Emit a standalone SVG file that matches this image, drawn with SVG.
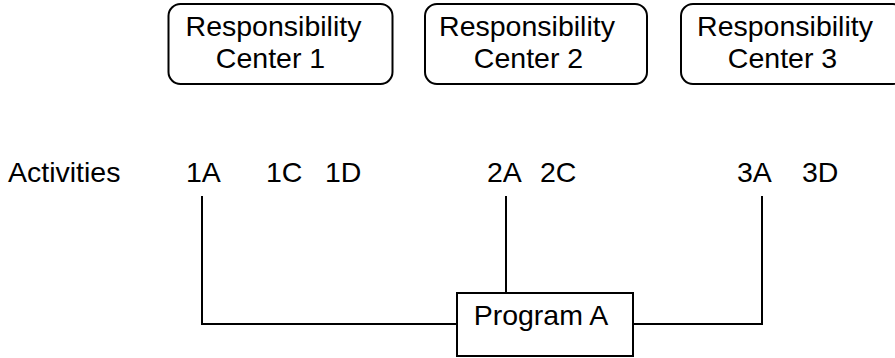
<svg xmlns="http://www.w3.org/2000/svg" width="895" height="358" viewBox="0 0 895 358">
<style>
.box{fill:#fff;stroke:#000;stroke-width:2}
.t{font-family:"Liberation Sans",Arial,sans-serif;font-size:28.5px;fill:#000}
.m{text-anchor:middle}
.c{fill:none;stroke:#000;stroke-width:2}
</style>
<rect width="895" height="358" fill="#fff"/>
<g id="connectors">
<path class="c" d="M202,196 V324 H457"/>
<path class="c" d="M506,196 V293"/>
<path class="c" d="M762,196 V324 H633"/>
</g>
<g id="rc1">
<rect class="box" x="168.5" y="4" width="224" height="80" rx="12"/>
<text class="t m" x="273.5" y="36">Responsibility</text>
<text class="t m" x="270.5" y="68">Center 1</text>
</g>
<g id="rc2">
<rect class="box" x="425" y="4" width="222" height="80" rx="12"/>
<text class="t m" x="527" y="36">Responsibility</text>
<text class="t m" x="528.5" y="68">Center 2</text>
</g>
<g id="rc3">
<rect class="box" x="681" y="4" width="224" height="80" rx="12"/>
<text class="t m" x="785" y="36">Responsibility</text>
<text class="t m" x="782.5" y="68">Center 3</text>
</g>
<g id="activities">
<text class="t" x="8" y="182">Activities</text>
<text class="t" x="186" y="182">1A</text>
<text class="t" x="266" y="182">1C</text>
<text class="t" x="325" y="182">1D</text>
<text class="t" x="487" y="182">2A</text>
<text class="t" x="540" y="182">2C</text>
<text class="t" x="737" y="182">3A</text>
<text class="t" x="802" y="182">3D</text>
</g>
<g id="programA">
<rect class="box" x="457" y="293" width="176" height="63"/>
<text class="t m" x="541" y="325">Program A</text>
</g>
</svg>
